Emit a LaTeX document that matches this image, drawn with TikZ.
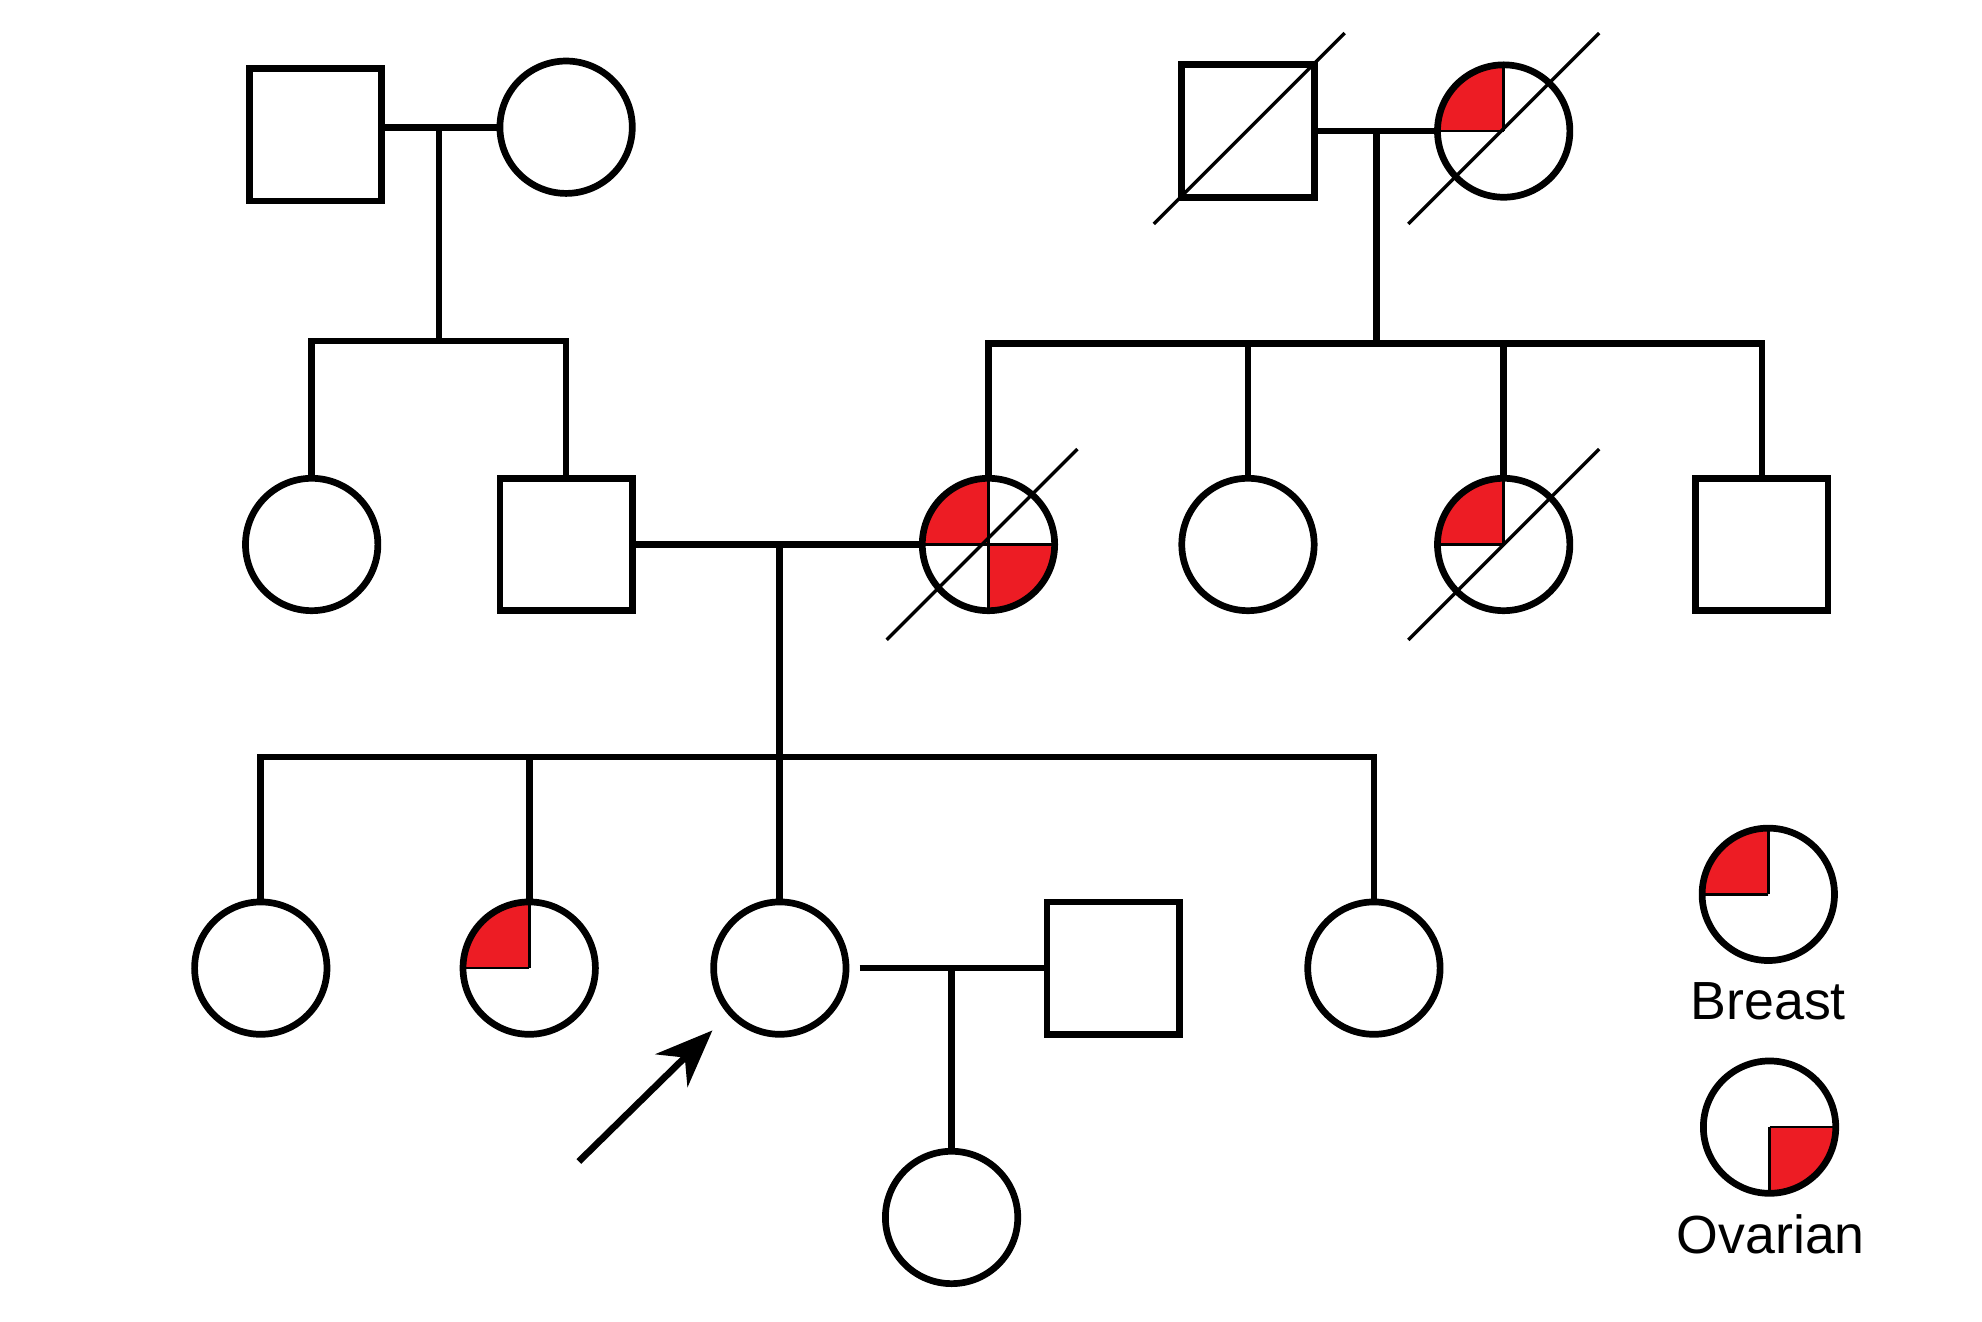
\documentclass[tikz,border=0pt]{standalone}
\usepackage{fontspec}
\usetikzlibrary{arrows.meta}
\setmainfont{Liberation Sans}
\definecolor{qred}{RGB}{237,28,36}
\begin{document}
\begin{tikzpicture}[x=0.01cm,y=-0.01cm,
  fem/.style={circle,draw,line width=1.5pt,minimum size=1.04cm,inner sep=0},
  mal/.style={rectangle,draw,line width=1.5pt,minimum size=1.04cm,inner sep=0},
  ln/.style={line width=1.5pt},
  sl/.style={line width=0.75pt},
  lbl/.style={font=\fontsize{12}{14}\selectfont}]
\useasboundingbox (0,0) rectangle (1558,1039);
\newcommand{\qUL}[1]{\fill[qred] (#1) -- ++(0,-50) arc[start angle=90,end angle=180,radius=0.5cm] -- cycle;
  \draw[line width=0.6pt] (#1) -- ++(0,-50) (#1) -- ++(-50,0);}
\newcommand{\qLR}[1]{\fill[qred] (#1) -- ++(0,50) arc[start angle=270,end angle=360,radius=0.5cm] -- cycle;
  \draw[line width=0.6pt] (#1) -- ++(0,50) (#1) -- ++(50,0);}
\coordinate (c1a) at (248,106); \coordinate (c1b) at (445,100);
\coordinate (c1c) at (981,103); \coordinate (c1d) at (1182,103);
\coordinate (c2a) at (245,428); \coordinate (c2b) at (445,428); \coordinate (c2c) at (777,428);
\coordinate (c2d) at (981,428); \coordinate (c2e) at (1182,428); \coordinate (c2f) at (1385,428);
\coordinate (c3a) at (205,761); \coordinate (c3b) at (416,761); \coordinate (c3c) at (613,761);
\coordinate (c3d) at (875,761); \coordinate (c3e) at (1080,761); \coordinate (c4) at (748,957);
\coordinate (lg1) at (1390,703); \coordinate (lg2) at (1391,886);
\qUL{c1d} \qUL{c2c} \qLR{c2c} \qUL{c2e} \qUL{c3b} \qUL{lg1} \qLR{lg2}
\node[mal] (A) at (c1a) {}; \node[fem] (B) at (c1b) {};
\node[mal] (C) at (c1c) {}; \node[fem] (D) at (c1d) {};
\node[fem] (E) at (c2a) {}; \node[mal] (F) at (c2b) {}; \node[fem] (G) at (c2c) {};
\node[fem] (H) at (c2d) {}; \node[fem] (I) at (c2e) {}; \node[mal] (J) at (c2f) {};
\node[fem] (K) at (c3a) {}; \node[fem] (L) at (c3b) {}; \node[fem] (M) at (c3c) {};
\node[mal] (N) at (c3d) {}; \node[fem] (O) at (c3e) {}; \node[fem] (P) at (c4) {};
\node[fem] (Q) at (lg1) {}; \node[fem] (R) at (lg2) {};
\node[lbl] (tb) at (1390,787) {Breast};
\node[lbl] (to) at (1392,970) {Ovarian};
\draw[sl] (907,176) -- (1057,26);
\draw[sl] (1107,176) -- (1257,26);
\draw[sl] (697,503) -- (847,353);
\draw[sl] (1107,503) -- (1257,353);
\coordinate (m1) at (345,100);
\draw[ln] (A.east |- m1) -- (B.west);
\draw[ln] (m1) -- (345,268);
\draw[ln] (E.north) -- (245,268) -- (445,268) -- (F.north);
\coordinate (m2) at (1082,103);
\draw[ln] (C.east |- m2) -- (D.west);
\draw[ln] (m2) -- (1082,270);
\draw[ln] (G.north) -- (777,270) -- (1385,270) -- (J.north);
\draw[ln] (981,270) -- (H.north);
\draw[ln] (1182,270) -- (I.north);
\draw[ln] (F.east) -- (G.west);
\draw[ln] (613,428) -- (613,595);
\draw[ln] (K.north) -- (205,595) -- (1080,595) -- (O.north);
\draw[ln] (416,595) -- (L.north);
\draw[ln] (613,595) -- (M.north);
\draw[ln] (M.east) ++(8,0) -- (N.west);
\draw[ln] (748,761) -- (P.north);
\coordinate (ar) at (455,913);
\draw[ln,-{Stealth[length=0.45cm,width=0.36cm]}] (ar) -- (560,810);
\end{tikzpicture}
\end{document}
